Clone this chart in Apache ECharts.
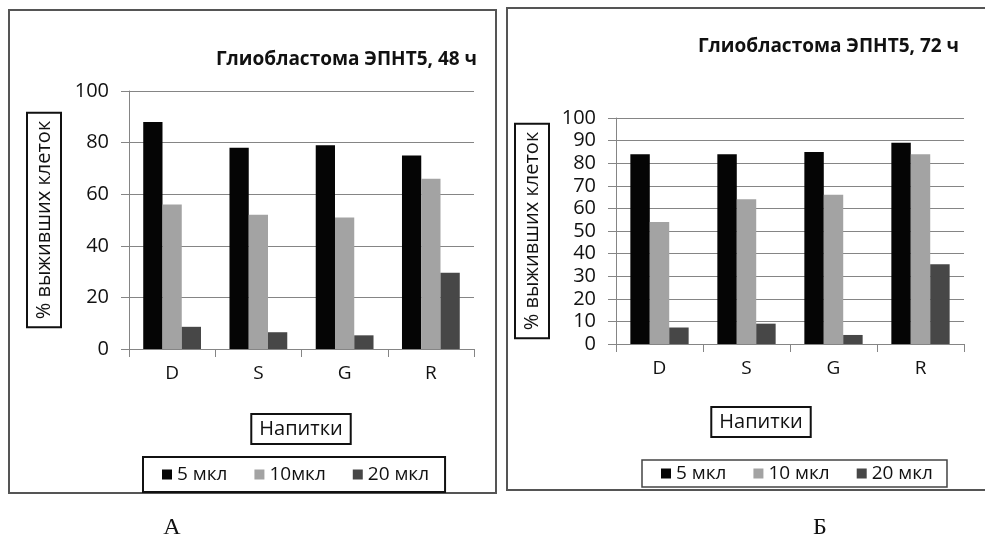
<!DOCTYPE html>
<html>
<head>
<meta charset="utf-8">
<title>Глиобластома ЭПНТ5</title>
<script src="https://cdn.jsdelivr.net/npm/echarts@6/dist/echarts.min.js"></script>
<style>
  html, body { margin: 0; padding: 0; background: #fff; }
  #chart { width: 985px; height: 538px; }
</style>
</head>
<body>
<div id="chart"></div>
<script>
// Drinks tested on the x axis
const drinks = ['D', 'S', 'G', 'R'];

// % surviving cells after 48 h
const h48_5 = [88, 78, 79, 75];
const h48_10 = [56, 52, 51, 66];
const h48_20 = [8.6, 6.5, 5.3, 29.6];

// % surviving cells after 72 h
const h72_5 = [84, 84, 85, 89];
const h72_10 = [54, 64, 66, 84];
const h72_20 = [7.3, 9, 4, 35.3];

// Legend / series names (the 48 h panel spells "10мкл" without a space)
const names48 = ['5 мкл', '10мкл', '20 мкл'];
const names72 = ['5 мкл', '10 мкл', '20 мкл'];

const titles = ['Глиобластома ЭПНТ5, 48 ч', 'Глиобластома ЭПНТ5, 72 ч'];
const yName = '% выживших клеток';
const xName = 'Напитки';
const panelLetters = ['А', 'Б'];

const FONT = '"Open Sans", "Noto Sans", sans-serif';
const barColors = ['#050505', '#a3a3a3', '#474747'];
const axisGray = '#858585';

const chart = echarts.init(document.getElementById('chart'), null, { renderer: 'canvas' });

function yAxisFor(gridIndex, interval, gap) {
  return {
    type: 'value', gridIndex: gridIndex, min: 0, max: 100, interval: interval,
    axisLine: { show: true, lineStyle: { color: axisGray, width: 1 } },
    axisTick: { show: true, length: 8, inside: false, lineStyle: { color: axisGray } },
    splitLine: { show: true, lineStyle: { color: axisGray, width: 1 } },
    axisLabel: { margin: 20, color: '#111', fontSize: 20, fontFamily: FONT },
    name: yName, nameLocation: 'middle', nameRotate: 90, nameGap: gap,
    nameTextStyle: {
      fontSize: 20, fontFamily: FONT, color: '#111',
      borderColor: '#111', borderWidth: 2, padding: [5, 8], lineHeight: 24
    }
  };
}

function xAxisFor(gridIndex) {
  return {
    type: 'category', gridIndex: gridIndex, data: drinks,
    axisLine: { show: true, lineStyle: { color: axisGray, width: 1 } },
    axisTick: { show: true, length: 8, alignWithLabel: false, lineStyle: { color: axisGray } },
    axisLabel: { margin: 15, color: '#111', fontSize: 19, fontFamily: FONT }
  };
}

function barSeries(name, data, idx, axisIndex) {
  return {
    type: 'bar', name: name, data: data,
    xAxisIndex: axisIndex, yAxisIndex: axisIndex,
    barGap: '0%', barCategoryGap: '33%',
    itemStyle: { color: barColors[idx] },
    emphasis: { disabled: true }
  };
}

function legendFor(names, left, top, padding, bw, bc, gap) {
  return {
    data: names, left: left, top: top, orient: 'horizontal',
    icon: 'rect', itemWidth: 10, itemHeight: 10, itemGap: gap,
    padding: padding, borderColor: bc, borderWidth: bw,
    textStyle: { fontSize: 19, fontFamily: FONT, color: '#111' },
    selectedMode: false
  };
}

function boxedText(text, cx, cy) {
  return {
    type: 'text', x: cx, y: cy, z: 10,
    style: {
      text: text, fontSize: 20, fontFamily: FONT, fill: '#111',
      align: 'center', verticalAlign: 'middle',
      borderColor: '#111', borderWidth: 2, padding: [4, 7],
      backgroundColor: '#fff'
    }
  };
}

const option = {
  animation: false,
  backgroundColor: '#fff',
  title: [
    { text: titles[0], right: 503, top: 45,
      textStyle: { fontSize: 19, fontWeight: 'bold', fontFamily: FONT, color: '#111' } },
    { text: titles[1], right: 21, top: 32,
      textStyle: { fontSize: 19, fontWeight: 'bold', fontFamily: FONT, color: '#111' } }
  ],
  grid: [
    { left: 129, top: 91, width: 345, height: 258 },
    { left: 616, top: 118, width: 348, height: 226 }
  ],
  xAxis: [xAxisFor(0), xAxisFor(1)],
  yAxis: [yAxisFor(0, 20, 68), yAxisFor(1, 10, 67)],
  legend: [
    legendFor(names48, 143, 457, [8, 16, 8, 19], 2, '#111', 27),
    legendFor(names72, 642, 460, [4, 14, 4, 19], 1.5, '#444', 27)
  ],
  series: [
    barSeries(names48[0], h48_5, 0, 0),
    barSeries(names48[1], h48_10, 1, 0),
    barSeries(names48[2], h48_20, 2, 0),
    barSeries(names72[0], h72_5, 0, 1),
    barSeries(names72[1], h72_10, 1, 1),
    barSeries(names72[2], h72_20, 2, 1)
  ],
  graphic: [
    // panel frames
    { type: 'rect', shape: { x: 9, y: 10, width: 487, height: 483 }, silent: true,
      style: { fill: 'none', stroke: '#555', lineWidth: 2 } },
    { type: 'rect', shape: { x: 507, y: 8, width: 490, height: 482 }, silent: true,
      style: { fill: 'none', stroke: '#555', lineWidth: 2 } },
    // boxed x-axis titles
    boxedText(xName, 301, 429),
    boxedText(xName, 761, 422),
    // panel letters
    { type: 'text', x: 172, y: 528, silent: true,
      style: { text: panelLetters[0], fontSize: 24, fontFamily: '"Liberation Serif", "DejaVu Serif", serif',
        fill: '#111', align: 'center', verticalAlign: 'middle' } },
    { type: 'text', x: 820, y: 528, silent: true,
      style: { text: panelLetters[1], fontSize: 24, fontFamily: '"Liberation Serif", "DejaVu Serif", serif',
        fill: '#111', align: 'center', verticalAlign: 'middle' } }
  ]
};

chart.setOption(option);
</script>
</body>
</html>
